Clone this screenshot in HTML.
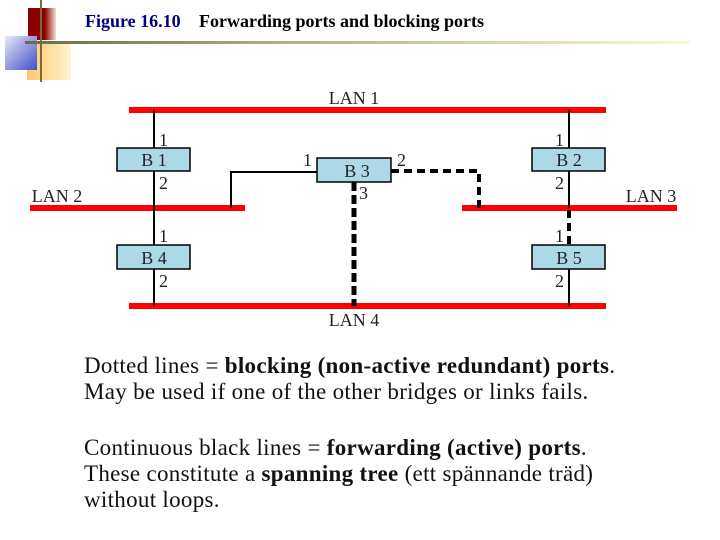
<!DOCTYPE html>
<html><head><style>
body{margin:0;width:720px;height:540px;background:#fff;position:relative;overflow:hidden;font-family:"Liberation Serif",serif}
.a{position:absolute}
.p{position:absolute;left:84px;font-size:23px;letter-spacing:0.3px;line-height:26px;color:#111}
</style></head><body>
<div class="a" style="left:28px;top:8px;width:28px;height:32px;background:linear-gradient(90deg,#8b0000 60%,#f0e0d0)"></div>
<div class="a" style="left:27px;top:44px;width:44px;height:36px;background:linear-gradient(90deg,#fcc868,#fff4d0)"></div>
<div class="a" style="left:5px;top:36px;width:32px;height:34px;background:linear-gradient(135deg,#e8e8f4,#4050c8)"></div>
<div class="a" style="left:40px;top:0;width:2px;height:82px;background:#7a6a3a"></div>
<div class="a" style="left:25px;top:41px;width:665px;height:3px;background:linear-gradient(90deg,#6a6a48,#b8b080 40%,#fbf8d8)"></div>
<div class="a" style="left:85px;top:11px;font-size:18px;font-weight:bold;color:#000080">Figure 16.10</div>
<div class="a" style="left:199px;top:11px;font-size:18px;font-weight:bold;color:#000">Forwarding ports and blocking ports</div>
<svg class="a" style="left:0;top:0" width="720" height="340" font-family="Liberation Serif, serif" font-size="18">
<g stroke="#f00" stroke-width="6">
<line x1="129" y1="110" x2="606" y2="110"/>
<line x1="30" y1="208" x2="245" y2="208"/>
<line x1="462" y1="208" x2="677" y2="208"/>
<line x1="129" y1="306" x2="606" y2="306"/>
</g>
<g stroke="#000" stroke-width="2" fill="none">
<line x1="154" y1="110" x2="154" y2="306"/>
<line x1="569" y1="110" x2="569" y2="208"/>
<line x1="569" y1="269" x2="569" y2="306"/>
<polyline points="231,208 231,172 317,172"/>
</g>
<g stroke="#000" stroke-width="4" fill="none" stroke-dasharray="8,5">
<polyline points="391,171 479,171 479,208"/>
<line x1="569" y1="210" x2="569" y2="245"/>
</g>
<line x1="354" y1="182" x2="354" y2="306" stroke="#000" stroke-width="5" stroke-dasharray="9,4"/>
<g fill="#add8e6" stroke="#000" stroke-width="1.5">
<rect x="117" y="148" width="73" height="23"/>
<rect x="117" y="245" width="73" height="24"/>
<rect x="532" y="148" width="73" height="23"/>
<rect x="532" y="245" width="73" height="24"/>
<rect x="317" y="158" width="74" height="24"/>
</g>
<g fill="#222" text-anchor="middle">
<text x="154" y="166">B 1</text><text x="154" y="264">B 4</text>
<text x="569" y="166">B 2</text><text x="569" y="264">B 5</text>
<text x="357" y="177">B 3</text>
<text x="354" y="104">LAN 1</text><text x="354" y="326">LAN 4</text>
<text x="57" y="202">LAN 2</text><text x="651" y="202">LAN 3</text>
</g>
<g fill="#222">
<text x="159" y="146">1</text><text x="159" y="189">2</text>
<text x="159" y="242">1</text><text x="159" y="287">2</text>
<text x="555" y="146">1</text><text x="555" y="189">2</text>
<text x="555" y="242">1</text><text x="555" y="287">2</text>
<text x="303" y="166">1</text><text x="397" y="166">2</text><text x="359" y="199">3</text>
</g>
</svg>
<div class="p" style="top:353px">Dotted lines = <b>blocking (non-active redundant) ports</b>.<br>May be used if one of the other bridges or links fails.</div>
<div class="p" style="top:435px">Continuous black lines = <b>forwarding (active) ports</b>.<br>These constitute a <b>spanning tree</b> (ett spännande träd)<br>without loops.</div>
</body></html>
